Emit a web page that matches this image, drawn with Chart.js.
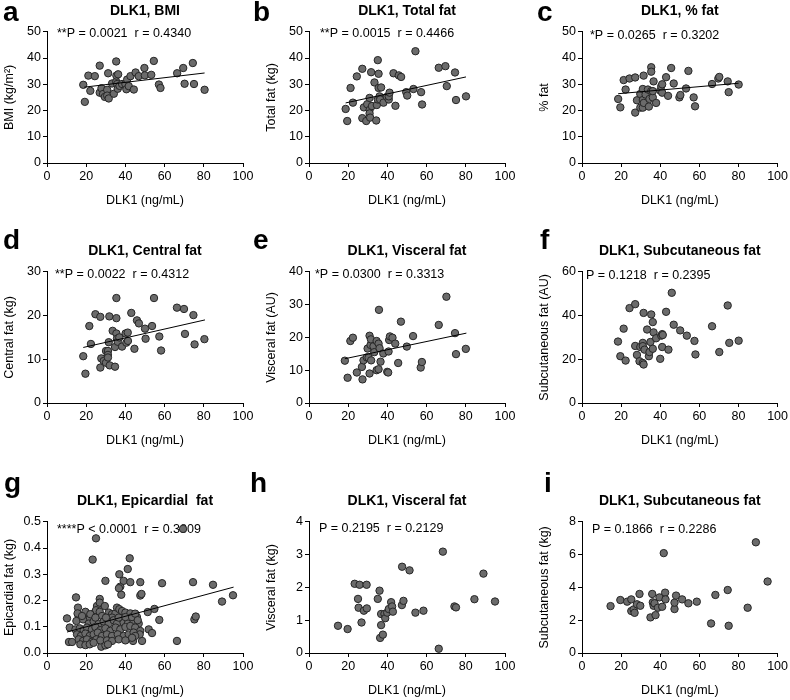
<!DOCTYPE html>
<html>
<head>
<meta charset="utf-8">
<script src="https://cdn.jsdelivr.net/npm/chart.js@4.4.1/dist/chart.umd.min.js"></script>
<style>
    body { margin: 0; background: #fff; }
    #page { position: relative; width: 790px; height: 700px; overflow: hidden; font-family: "Liberation Sans", Arial, sans-serif; }
    .panel { position: absolute; }
    .letter { position: absolute; font-weight: bold; font-size: 28px; line-height: 28px; color: #000; z-index: 2; }
</style>
</head>
<body>
<div id="page">
    <div class="letter" style="left:3px;top:-2px">a</div>
    <div class="letter" style="left:253px;top:-2px">b</div>
    <div class="letter" style="left:537px;top:-2px">c</div>
    <div class="letter" style="left:3px;top:226px">d</div>
    <div class="letter" style="left:253px;top:226px">e</div>
    <div class="letter" style="left:540px;top:226px">f</div>
    <div class="letter" style="left:4px;top:469px">g</div>
    <div class="letter" style="left:250px;top:469px">h</div>
    <div class="letter" style="left:544px;top:469px">i</div>

    <div class="panel" style="left:0px;top:0px"><canvas id="chartA" width="257" height="211"></canvas></div>
    <div class="panel" style="left:262px;top:0px"><canvas id="chartB" width="257" height="211"></canvas></div>
    <div class="panel" style="left:535px;top:0px"><canvas id="chartC" width="255" height="211"></canvas></div>
    <div class="panel" style="left:0px;top:240px"><canvas id="chartD" width="257" height="211"></canvas></div>
    <div class="panel" style="left:262px;top:240px"><canvas id="chartE" width="257" height="211"></canvas></div>
    <div class="panel" style="left:535px;top:240px"><canvas id="chartF" width="255" height="211"></canvas></div>
    <div class="panel" style="left:0px;top:490px"><canvas id="chartG" width="257" height="211"></canvas></div>
    <div class="panel" style="left:262px;top:490px"><canvas id="chartH" width="257" height="211"></canvas></div>
    <div class="panel" style="left:535px;top:490px"><canvas id="chartI" width="255" height="211"></canvas></div>
</div>

<script>
// x axis ticks (ng/mL), same for every panel
const dlk1Ticks = [0, 20, 40, 60, 80, 100];

// a - BMI
const bmiDlk1 = [18.5, 19.3, 21.1, 22.1, 24.4, 26.9, 26.9, 27.8, 28.6, 29.5, 30.7, 30.7, 31.2, 31.5, 33.2, 34.1, 35.3, 35.3, 35.4, 35.8, 36.1, 36.3, 37.0, 38.3, 40.0, 40.5, 40.9, 41.7, 42.6, 44.3, 45.2, 46.8, 49.7, 49.9, 53.2, 54.5, 57.1, 57.9, 66.4, 69.5, 70.2, 74.4, 75.0, 80.4];
const bmiValues = [29.8, 23.3, 33.3, 27.5, 33.1, 37.1, 26.8, 28.5, 26.3, 25.2, 27.9, 25.7, 34.2, 24.6, 30.3, 26.4, 38.7, 31.0, 33.3, 30.1, 28.3, 33.8, 29.4, 30.1, 30.1, 28.1, 31.8, 29.3, 33.1, 28.0, 34.5, 33.1, 36.2, 33.4, 33.6, 38.9, 29.9, 28.6, 34.2, 36.2, 30.2, 38.1, 30.1, 27.9];
const bmiFitX = [19.0, 80.4];
const bmiFitY = [28.9, 34.3];

// b - total fat
const totalFatDlk1 = [18.7, 19.5, 21.2, 22.4, 24.4, 27.2, 27.2, 28.0, 29.2, 29.7, 30.9, 30.9, 30.9, 31.2, 31.7, 32.1, 33.4, 34.3, 34.6, 35.1, 35.1, 35.5, 35.5, 36.0, 36.3, 36.8, 38.0, 39.7, 40.7, 40.7, 41.1, 43.1, 44.1, 45.8, 47.0, 49.6, 50.1, 53.3, 54.3, 57.2, 57.7, 66.2, 69.6, 70.3, 74.5, 75.0, 80.1];
const totalFatValues = [20.6, 16.0, 28.6, 23.0, 33.0, 35.9, 17.1, 21.2, 16.0, 22.4, 24.8, 20.2, 18.9, 17.3, 34.6, 21.7, 30.7, 16.2, 22.1, 24.2, 39.2, 34.0, 28.6, 25.4, 24.2, 28.8, 23.0, 25.2, 24.2, 25.4, 26.8, 34.2, 21.8, 33.4, 32.8, 27.0, 25.7, 28.2, 42.6, 27.0, 22.3, 36.3, 36.9, 29.3, 34.5, 24.0, 25.4];
const totalFatFitX = [18.7, 80.1];
const totalFatFitY = [22.9, 32.8];

// c - % fat
const pctFatDlk1 = [18.5, 19.6, 21.3, 22.3, 24.3, 27.2, 27.2, 28.1, 29.8, 29.8, 31.1, 31.1, 31.1, 31.5, 31.6, 32.5, 33.7, 34.2, 34.5, 35.4, 35.4, 35.4, 36.2, 36.2, 36.6, 37.9, 40.0, 40.5, 41.0, 41.0, 43.0, 44.0, 45.6, 46.9, 49.8, 50.3, 53.2, 54.4, 57.1, 57.8, 66.5, 69.7, 70.2, 74.5, 75.0, 80.1];
const pctFatValues = [24.4, 21.2, 31.6, 28.0, 32.2, 32.6, 19.2, 23.9, 21.1, 26.3, 28.2, 21.1, 24.0, 33.3, 22.9, 26.1, 28.0, 21.5, 24.4, 27.4, 36.5, 34.8, 25.0, 27.4, 31.1, 22.9, 27.6, 29.2, 30.0, 26.8, 32.7, 25.6, 36.2, 30.3, 25.0, 25.9, 28.4, 35.1, 25.0, 21.6, 30.1, 32.2, 32.8, 31.1, 27.0, 29.9];
const pctFatFitX = [18.5, 80.1];
const pctFatFitY = [26.4, 30.4];

// d - central fat
const centralFatDlk1 = [18.5, 19.6, 21.6, 22.4, 24.7, 27.2, 27.7, 27.2, 28.9, 30.1, 30.1, 31.1, 31.1, 31.1, 31.5, 31.8, 32.0, 33.5, 34.7, 34.7, 35.4, 35.4, 35.4, 35.7, 36.1, 36.9, 38.3, 40.1, 40.5, 41.2, 41.3, 43.0, 44.6, 45.9, 46.9, 50.0, 50.3, 53.6, 54.6, 57.3, 58.2, 66.3, 69.9, 70.4, 74.7, 75.3, 80.3];
const centralFatValues = [10.7, 6.7, 17.6, 13.5, 20.3, 19.7, 10.2, 8.1, 9.6, 11.9, 9.2, 11.9, 11.0, 10.4, 13.9, 19.8, 8.6, 16.5, 8.3, 12.8, 24.0, 19.4, 15.9, 14.7, 14.0, 15.0, 12.9, 15.9, 13.8, 16.1, 14.2, 20.6, 12.4, 18.9, 18.2, 17.0, 14.7, 17.6, 24.0, 15.2, 12.0, 21.8, 21.5, 15.8, 20.1, 13.4, 14.6];
const centralFatFitX = [18.5, 80.6];
const centralFatFitY = [12.7, 19.0];

// e - visceral fat (AU)
const visceralAuDlk1 = [18.3, 19.7, 21.1, 22.4, 24.4, 27.0, 27.3, 27.8, 29.5, 29.9, 30.4, 30.9, 30.9, 31.4, 31.6, 31.7, 32.9, 33.3, 34.5, 34.5, 35.5, 35.5, 35.7, 36.0, 36.5, 37.9, 39.9, 40.4, 40.6, 40.9, 41.3, 42.6, 44.0, 45.5, 46.9, 49.9, 53.1, 57.0, 57.6, 66.2, 70.1, 74.5, 75.0, 80.0];
const visceralAuValues = [12.9, 7.7, 18.9, 19.9, 9.3, 11.0, 7.2, 13.0, 13.9, 16.6, 13.8, 9.0, 20.5, 17.7, 19.4, 13.0, 17.3, 15.5, 10.0, 18.9, 18.1, 10.3, 28.4, 16.7, 12.6, 15.1, 9.5, 9.3, 15.7, 19.2, 20.3, 19.9, 18.1, 12.2, 24.8, 17.2, 20.4, 10.8, 12.5, 23.8, 32.4, 21.3, 14.9, 16.5];
const visceralAuFitX = [18.3, 80.3];
const visceralAuFitY = [13.5, 21.3];

// f - subcutaneous fat (AU)
const subcutAuDlk1 = [18.4, 19.6, 21.3, 22.3, 24.3, 27.2, 27.2, 28.1, 29.4, 29.8, 31.1, 31.1, 31.1, 31.5, 31.5, 32.0, 33.3, 34.2, 34.5, 35.0, 35.4, 36.2, 36.2, 36.6, 37.9, 40.0, 40.5, 41.0, 41.3, 41.0, 43.0, 44.2, 45.9, 46.9, 50.2, 53.6, 57.5, 58.0, 66.5, 70.2, 74.5, 75.3, 80.1];
const subcutAuValues = [28.1, 21.4, 34.0, 19.4, 43.4, 45.2, 26.1, 22.0, 19.1, 25.6, 27.5, 26.0, 18.3, 17.6, 41.2, 24.4, 33.6, 21.4, 23.3, 27.9, 40.5, 37.0, 24.8, 32.3, 29.6, 20.2, 30.8, 31.5, 31.1, 25.6, 41.7, 24.4, 50.4, 35.8, 33.2, 30.8, 28.4, 22.2, 35.1, 23.3, 44.6, 27.5, 28.5];

// g - epicardial fat
const epiDlk1 = [10.2, 11.6, 11.2, 12.8, 14.8, 15.8, 16.5, 15.8, 23.3, 25.0, 26.9, 29.8, 27.7, 29.8, 36.9, 37.4, 36.7, 39.1, 37.9, 41.2, 42.2, 42.5, 40.8, 47.6, 47.6, 48.2, 48.5, 43.9, 51.4, 54.8, 51.9, 53.6, 57.3, 58.7, 66.3, 69.4, 74.5, 75.2, 75.9, 84.7, 89.3, 94.9,
    20.4, 21.8, 23.8, 25.5, 25.0, 26.9, 28.1, 31.5, 33.2, 34.9, 35.7, 36.9, 38.3, 40.0, 42.5, 33.2,
    15.0, 18.4, 21.3, 23.8, 26.4, 28.9, 31.5, 34.0, 35.7, 39.1, 41.2, 44.2, 45.9, 46.8,
    14.5, 16.7, 18.7, 20.4, 22.9, 24.7, 27.2, 29.8, 32.3, 35.0, 37.4, 40.0, 42.5, 45.0, 47.6,
    15.3, 17.3, 19.6, 21.8, 23.8, 25.9, 28.1, 30.6, 33.2, 36.1, 39.1, 41.7, 47.3,
    16.2, 18.4, 20.4, 23.0, 25.2, 27.2, 30.6, 33.2, 36.6, 40.0,
    17.0, 19.6, 21.8, 23.8,
    26.9, 29.5, 15.6, 19.6, 17.9, 22.1, 24.7, 30.1, 36.6, 40.0, 43.4, 45.0, 46.3, 44.2, 45.0, 43.4, 31.1];
const epiFatValues = [0.132, 0.097, 0.042, 0.042, 0.212, 0.173, 0.135, 0.148, 0.356, 0.437, 0.206, 0.275, 0.024, 0.029, 0.300, 0.253, 0.247, 0.275, 0.222, 0.320, 0.361, 0.270, 0.148, 0.270, 0.219, 0.225, 0.046, 0.046, 0.156, 0.168, 0.090, 0.076, 0.126, 0.266, 0.046, 0.473, 0.270, 0.128, 0.139, 0.260, 0.196, 0.220,
    0.148, 0.135, 0.151, 0.179, 0.163, 0.157, 0.141, 0.154, 0.148, 0.151, 0.173, 0.167, 0.160, 0.154, 0.151, 0.135,
    0.122, 0.128, 0.112, 0.120, 0.112, 0.120, 0.112, 0.125, 0.112, 0.116, 0.112, 0.122, 0.137, 0.112,
    0.090, 0.094, 0.087, 0.097, 0.090, 0.099, 0.087, 0.094, 0.084, 0.097, 0.090, 0.099, 0.103, 0.097, 0.084,
    0.071, 0.065, 0.074, 0.065, 0.071, 0.078, 0.065, 0.071, 0.065, 0.071, 0.065, 0.071, 0.071,
    0.052, 0.046, 0.052, 0.043, 0.052, 0.048, 0.048, 0.046, 0.052, 0.048,
    0.033, 0.030, 0.033, 0.039,
    0.192, 0.179, 0.151, 0.157, 0.141, 0.148, 0.135, 0.135, 0.135, 0.137, 0.137, 0.150, 0.125, 0.078, 0.065, 0.058, 0.033];
const epiFitX = [10.2, 95.2];
const epiFitY = [0.080, 0.251];

// h - visceral fat (kg)
const visceralKgDlk1 = [14.8, 19.7, 23.3, 25.8, 25.0, 25.3, 26.8, 28.0, 29.4, 29.5, 35.1, 36.0, 36.3, 36.8, 36.8, 37.7, 38.5, 38.9, 39.9, 40.7, 41.9, 42.4, 42.8, 47.5, 47.4, 48.2, 51.3, 54.3, 58.4, 66.2, 68.3, 74.2, 75.0, 84.4, 89.0, 94.9];
const visceralKgValues = [0.83, 0.73, 2.11, 2.08, 1.65, 1.38, 0.93, 1.29, 2.08, 1.36, 1.65, 1.90, 0.46, 1.19, 0.85, 0.56, 1.19, 1.06, 1.23, 1.34, 1.55, 1.42, 1.26, 2.63, 1.46, 1.59, 2.52, 1.23, 1.29, 0.13, 3.09, 1.42, 1.39, 1.64, 2.42, 1.57];

// i - subcutaneous fat (kg)
const subcutKgDlk1 = [14.6, 19.6, 23.1, 25.2, 25.2, 26.4, 26.9, 28.1, 29.4, 29.8, 35.0, 35.9, 36.2, 36.6, 37.1, 37.6, 38.8, 39.6, 41.0, 41.8, 42.5, 42.7, 47.3, 47.3, 48.1, 51.2, 54.4, 58.7, 66.0, 68.2, 74.5, 75.0, 84.7, 88.9, 94.9];
const subcutKgValues = [2.86, 3.23, 3.13, 3.27, 2.56, 2.66, 2.45, 2.97, 3.60, 2.88, 2.17, 3.60, 3.09, 2.88, 3.03, 2.31, 2.76, 3.39, 2.82, 6.09, 3.68, 3.27, 2.68, 3.07, 3.50, 3.27, 3.03, 3.13, 1.80, 3.54, 3.84, 1.66, 2.76, 6.75, 4.36];

const fontFamily = '"Liberation Sans", Arial, sans-serif';

// texto de P e r no canto do grafico
const statText = {
    id: 'statText',
    beforeDatasetsDraw(chart, args, opts) {
        const { ctx, chartArea } = chart;
        ctx.save();
        ctx.font = '12.5px ' + fontFamily;
        ctx.fillStyle = '#000';
        ctx.textBaseline = 'middle';
        ctx.fillText(opts.text, chartArea.left + opts.dx, chartArea.top + opts.dy);
        ctx.restore();
    }
};

function drawPanel(id, xs, ys, fitX, fitY, cfg) {
    const ctx = document.getElementById(id).getContext('2d');

    const datasets = [{
        data: xs.map((x, i) => ({ x: x, y: ys[i] })),
        backgroundColor: '#6b6b6b',
        borderColor: '#262626',
        borderWidth: 1,
        pointRadius: 3.7,
        order: 1
    }];
    // linha de regressao
    if (fitX) {
        datasets.push({
            data: fitX.map((x, i) => ({ x: x, y: fitY[i] })),
            showLine: true,
            borderColor: '#000',
            borderWidth: 1,
            pointRadius: 0,
            order: 0
        });
    }

    new Chart(ctx, {
        type: 'scatter',
        data: { datasets: datasets },
        options: {
            responsive: false,
            animation: false,
            layout: { padding: { left: 0, right: cfg.padRight, top: 0, bottom: 0 } },
            plugins: {
                legend: { display: false },
                tooltip: { enabled: false },
                title: {
                    display: true,
                    text: cfg.title,
                    color: '#000',
                    fullSize: false,
                    font: { family: fontFamily, size: 14, weight: 'bold' },
                    padding: { top: 3, bottom: 12 }
                },
                statText: { text: cfg.stat, dx: cfg.statDx, dy: cfg.statDy }
            },
            scales: {
                x: {
                    type: 'linear',
                    min: dlk1Ticks[0],
                    max: dlk1Ticks[dlk1Ticks.length - 1],
                    afterBuildTicks: s => { s.ticks = dlk1Ticks.map(v => ({ value: v })); },
                    afterFit: s => { s.height = 48; },
                    ticks: { color: '#000', padding: 2, font: { family: fontFamily, size: 12.5 } },
                    grid: { drawOnChartArea: false, color: '#000', tickLength: 4 },
                    border: { color: '#000' },
                    title: {
                        display: true,
                        text: 'DLK1 (ng/mL)',
                        color: '#000',
                        font: { family: fontFamily, size: 12.5 },
                        padding: { top: 0, bottom: 3 }
                    }
                },
                y: {
                    min: 0,
                    max: cfg.yTicks[cfg.yTicks.length - 1],
                    afterBuildTicks: s => { s.ticks = cfg.yTicks.map(v => ({ value: v })); },
                    afterFit: s => { s.width = 47; },
                    ticks: {
                        color: '#000',
                        padding: 2,
                        font: { family: fontFamily, size: 12.5 },
                        callback: v => cfg.decimals ? v.toFixed(cfg.decimals) : v
                    },
                    grid: { drawOnChartArea: false, color: '#000', tickLength: 4 },
                    border: { color: '#000' },
                    title: {
                        display: true,
                        text: cfg.yLabel,
                        color: '#000',
                        font: { family: fontFamily, size: 12.5 },
                        padding: { top: 2, bottom: 0 }
                    }
                }
            }
        },
        plugins: [statText]
    });
}

document.addEventListener('DOMContentLoaded', function () {
    drawPanel('chartA', bmiDlk1, bmiValues, bmiFitX, bmiFitY, {
        title: 'DLK1, BMI', yLabel: 'BMI (kg/m\u00B2)', yTicks: [0, 10, 20, 30, 40, 50],
        stat: '**P = 0.0021  r = 0.4340', statDx: 10, statDy: 2, padRight: 14
    });
    drawPanel('chartB', totalFatDlk1, totalFatValues, totalFatFitX, totalFatFitY, {
        title: 'DLK1, Total fat', yLabel: 'Total fat (kg)', yTicks: [0, 10, 20, 30, 40, 50],
        stat: '**P = 0.0015  r = 0.4466', statDx: 11, statDy: 2, padRight: 14
    });
    drawPanel('chartC', pctFatDlk1, pctFatValues, pctFatFitX, pctFatFitY, {
        title: 'DLK1, % fat', yLabel: '% fat', yTicks: [0, 10, 20, 30, 40, 50],
        stat: '*P = 0.0265  r = 0.3202', statDx: 8, statDy: 4, padRight: 12
    });
    drawPanel('chartD', centralFatDlk1, centralFatValues, centralFatFitX, centralFatFitY, {
        title: 'DLK1, Central fat', yLabel: 'Central fat (kg)', yTicks: [0, 10, 20, 30],
        stat: '**P = 0.0022  r = 0.4312', statDx: 8, statDy: 3, padRight: 14
    });
    drawPanel('chartE', visceralAuDlk1, visceralAuValues, visceralAuFitX, visceralAuFitY, {
        title: 'DLK1, Visceral fat', yLabel: 'Visceral fat (AU)', yTicks: [0, 10, 20, 30, 40],
        stat: '*P = 0.0300  r = 0.3313', statDx: 6, statDy: 3, padRight: 14
    });
    drawPanel('chartF', subcutAuDlk1, subcutAuValues, null, null, {
        title: 'DLK1, Subcutaneous fat', yLabel: 'Subcutaneous fat (AU)', yTicks: [0, 20, 40, 60],
        stat: 'P = 0.1218  r = 0.2395', statDx: 4, statDy: 4, padRight: 12
    });
    drawPanel('chartG', epiDlk1, epiFatValues, epiFitX, epiFitY, {
        title: 'DLK1, Epicardial  fat', yLabel: 'Epicardial fat (kg)', yTicks: [0, 0.1, 0.2, 0.3, 0.4, 0.5],
        decimals: 1, stat: '****P < 0.0001  r = 0.3809', statDx: 10, statDy: 8, padRight: 14
    });
    drawPanel('chartH', visceralKgDlk1, visceralKgValues, null, null, {
        title: 'DLK1, Visceral fat', yLabel: 'Visceral fat (kg)', yTicks: [0, 1, 2, 3, 4],
        stat: 'P = 0.2195  r = 0.2129', statDx: 10, statDy: 7, padRight: 14
    });
    drawPanel('chartI', subcutKgDlk1, subcutKgValues, null, null, {
        title: 'DLK1, Subcutaneous fat', yLabel: 'Subcutaneous fat (kg)', yTicks: [0, 2, 4, 6, 8],
        stat: 'P = 0.1866  r = 0.2286', statDx: 10, statDy: 8, padRight: 12
    });
});
</script>
</body>
</html>
